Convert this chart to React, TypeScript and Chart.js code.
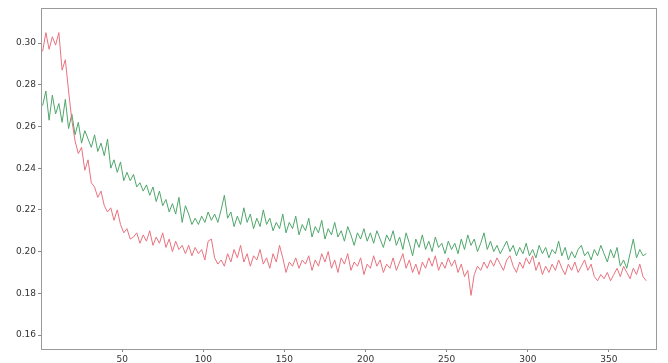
import React, { useEffect, useRef } from "react";
import { Chart, registerables } from "chart.js";

Chart.register(...registerables);

const xTicks = [50, 100, 150, 200, 250, 300, 350];
const yTicks = [0.16, 0.18, 0.2, 0.22, 0.24, 0.26, 0.28, 0.3];

// samples at x = 1, 3, 5, ... 373
const redSeries = [
  0.296, 0.305, 0.297, 0.303, 0.299, 0.305, 0.287, 0.292, 0.277, 0.263,
  0.253, 0.247, 0.25, 0.239, 0.244, 0.233, 0.231, 0.226, 0.229, 0.222,
  0.219, 0.221, 0.215, 0.22, 0.213, 0.209, 0.211, 0.206, 0.207, 0.209,
  0.204, 0.208, 0.205, 0.21, 0.203, 0.207, 0.204, 0.209, 0.202, 0.206,
  0.2, 0.205, 0.201, 0.203, 0.199, 0.203, 0.198, 0.202, 0.199, 0.201,
  0.196, 0.205, 0.206, 0.197, 0.194, 0.196, 0.193, 0.199, 0.195, 0.201,
  0.197, 0.203, 0.195, 0.199, 0.193, 0.198, 0.196, 0.201, 0.194, 0.197,
  0.192, 0.199, 0.195, 0.203, 0.197, 0.19, 0.195, 0.193, 0.197, 0.192,
  0.196, 0.194, 0.198, 0.191, 0.196, 0.193, 0.199, 0.195, 0.2, 0.192,
  0.196, 0.19, 0.197, 0.194, 0.199, 0.191, 0.195, 0.193, 0.197, 0.189,
  0.194, 0.192, 0.198, 0.193, 0.196, 0.19, 0.194, 0.192, 0.197, 0.191,
  0.195, 0.199, 0.192, 0.196, 0.19, 0.194, 0.189, 0.195, 0.192, 0.197,
  0.193, 0.198, 0.191, 0.195, 0.192, 0.197, 0.193, 0.196, 0.19, 0.194,
  0.188, 0.191, 0.179, 0.189, 0.193, 0.191, 0.195, 0.192, 0.196, 0.193,
  0.197, 0.194, 0.191, 0.196, 0.198, 0.193, 0.19, 0.195, 0.192, 0.197,
  0.194, 0.198, 0.191, 0.195, 0.189, 0.193, 0.19, 0.194, 0.191, 0.196,
  0.192, 0.189, 0.194, 0.191, 0.195, 0.19, 0.193, 0.196, 0.191, 0.194,
  0.188, 0.186, 0.189, 0.187, 0.19, 0.186, 0.189, 0.192, 0.188, 0.193,
  0.19, 0.187, 0.192, 0.189, 0.194, 0.188, 0.186,
];

const greenSeries = [
  0.27, 0.277, 0.263, 0.275, 0.266, 0.271, 0.262, 0.273, 0.259, 0.266,
  0.256, 0.262, 0.252, 0.258, 0.254, 0.25, 0.256, 0.248, 0.252, 0.246,
  0.254, 0.24, 0.244, 0.238, 0.243, 0.234, 0.238, 0.234, 0.237, 0.231,
  0.233, 0.229, 0.232, 0.227, 0.231, 0.224, 0.229, 0.222, 0.225, 0.219,
  0.223, 0.218, 0.226, 0.214, 0.222, 0.218, 0.213, 0.216, 0.213, 0.217,
  0.214, 0.219, 0.215, 0.218, 0.214, 0.22, 0.227, 0.216, 0.219, 0.212,
  0.217, 0.213, 0.221, 0.214, 0.218, 0.211, 0.216, 0.212, 0.22, 0.213,
  0.216, 0.21, 0.214, 0.211, 0.218, 0.209, 0.214, 0.211, 0.217, 0.208,
  0.213, 0.21, 0.216, 0.207, 0.212, 0.209, 0.215, 0.206, 0.211, 0.208,
  0.214, 0.207, 0.21, 0.205, 0.212, 0.208, 0.203, 0.209, 0.206, 0.211,
  0.205, 0.209, 0.204, 0.21, 0.206, 0.202, 0.208, 0.205, 0.21, 0.203,
  0.207, 0.201, 0.209, 0.204, 0.198, 0.206, 0.202, 0.208, 0.201, 0.205,
  0.2, 0.207, 0.202, 0.204, 0.199, 0.205, 0.201, 0.204, 0.199, 0.206,
  0.201, 0.208, 0.203, 0.206, 0.2, 0.204, 0.209, 0.201, 0.205, 0.2,
  0.203, 0.199, 0.202, 0.205, 0.2, 0.203, 0.198, 0.202, 0.199, 0.204,
  0.198, 0.201, 0.197, 0.203, 0.199, 0.202, 0.197, 0.201, 0.199, 0.205,
  0.198, 0.202, 0.196, 0.2, 0.197, 0.201, 0.203, 0.198, 0.2, 0.196,
  0.201, 0.198, 0.203, 0.199, 0.195, 0.201, 0.197, 0.202, 0.193, 0.196,
  0.192, 0.199, 0.206, 0.197, 0.201, 0.198, 0.199,
];

const toPoints = (vals: number[]) => vals.map((v, i) => ({ x: 1 + 2 * i, y: v }));

const frame = {
  id: "frame",
  afterDraw(chart: any) {
    const { ctx, chartArea: a } = chart;
    ctx.save();
    ctx.strokeStyle = "#9a9a9a";
    ctx.lineWidth = 1;
    ctx.strokeRect(a.left + 0.5, a.top + 0.5, a.right - a.left, a.bottom - a.top);
    ctx.restore();
  },
};

export default function App() {
  const ref = useRef<HTMLCanvasElement | null>(null);
  useEffect(() => {
    document.body.style.margin = "0";
    const chart = new Chart(ref.current!, {
      type: "line",
      data: {
        datasets: [
          {
            data: toPoints(redSeries),
            borderColor: "#e8727e",
            borderWidth: 1,
            pointRadius: 0,
            tension: 0,
          },
          {
            data: toPoints(greenSeries),
            borderColor: "#4ea66a",
            borderWidth: 1,
            pointRadius: 0,
            tension: 0,
          },
        ],
      },
      options: {
        animation: false,
        responsive: false,
        layout: { padding: { top: 8, right: 12, left: 0, bottom: 0 } },
        plugins: { legend: { display: false }, tooltip: { enabled: false } },
        scales: {
          x: {
            type: "linear",
            min: 0,
            max: 379,
            afterBuildTicks: (s: any) => {
              s.ticks = xTicks.map((v) => ({ value: v }));
            },
            afterFit: (s: any) => {
              s.height = 14;
            },
            grid: { drawOnChartArea: false, tickLength: 3, color: "#888" },
            border: { color: "#9a9a9a" },
            ticks: {
              color: "#333",
              font: { family: "DejaVu Sans", size: 9 },
              padding: 2,
              maxRotation: 0,
              autoSkip: false,
            },
          },
          y: {
            type: "linear",
            min: 0.1533,
            max: 0.3168,
            afterBuildTicks: (s: any) => {
              s.ticks = yTicks.map((v) => ({ value: v }));
            },
            afterFit: (s: any) => {
              s.width = 41;
            },
            grid: { drawOnChartArea: false, tickLength: 3, color: "#888" },
            border: { color: "#9a9a9a" },
            ticks: {
              color: "#333",
              font: { family: "DejaVu Sans", size: 9 },
              padding: 2,
              callback: (v: any) => Number(v).toFixed(2),
            },
          },
        },
      },
      plugins: [frame],
    });
    return () => chart.destroy();
  }, []);
  return (
    <div style={{ width: 668, height: 363, background: "#fff" }}>
      <canvas ref={ref} width={668} height={363} style={{ display: "block" }} />
    </div>
  );
}
